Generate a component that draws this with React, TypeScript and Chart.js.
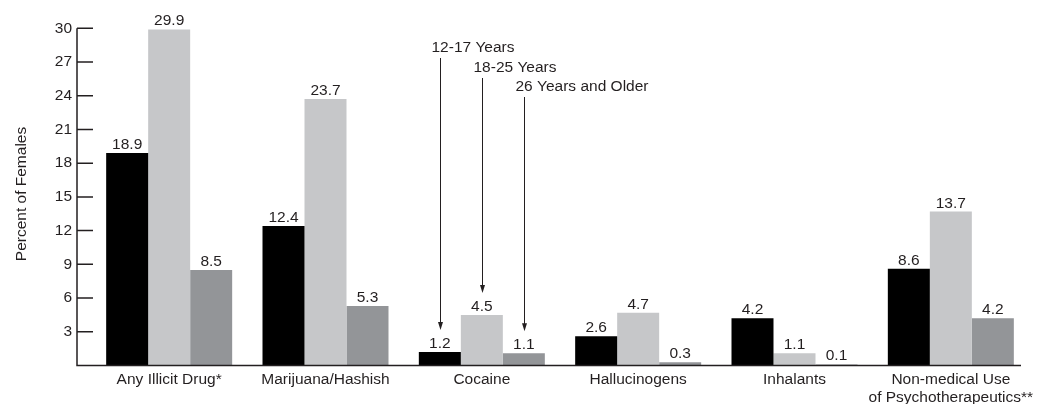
import React, { useEffect, useRef } from "react";
import { Chart, registerables } from "chart.js";

Chart.register(...registerables);

const categories: (string | string[])[] = [
  "Any Illicit Drug*",
  "Marijuana/Hashish",
  "Cocaine",
  "Hallucinogens",
  "Inhalants",
  ["Non-medical Use", "of Psychotherapeutics**"],
];
const seriesNames = ["12-17 Years", "18-25 Years", "26 Years and Older"];
const age12to17 = [18.9, 12.4, 1.2, 2.6, 4.2, 8.6];
const age18to25 = [29.9, 23.7, 4.5, 4.7, 1.1, 13.7];
const age26plus = [8.5, 5.3, 1.1, 0.3, 0.1, 4.2];
const seriesColors = ["#000000", "#c6c7c9", "#939598"];
const yTicks = [0, 3, 6, 9, 12, 15, 18, 21, 24, 27, 30];
const yTitle = "Percent of Females";
const annotatedCategory = 2;

const FONT = "'Liberation Sans', Arial, Helvetica, sans-serif";
const FS = 15.5;
const INK = "#231f20";

export default function App() {
  const ref = useRef<HTMLCanvasElement | null>(null);

  useEffect(() => {
    if (!ref.current) return;
    const axisX = 77;

    const overlay = {
      id: "overlay",
      afterDatasetsDraw(chart: any) {
        const ctx = chart.ctx;
        const area = chart.chartArea;
        const y = chart.scales.y;
        ctx.save();
        // axes
        ctx.strokeStyle = INK;
        ctx.lineWidth = 1.5;
        ctx.beginPath();
        ctx.moveTo(axisX, y.getPixelForValue(30));
        ctx.lineTo(axisX, area.bottom + 0.75);
        ctx.moveTo(axisX, area.bottom);
        ctx.lineTo(1021, area.bottom);
        ctx.stroke();
        ctx.beginPath();
        yTicks.forEach((t) => {
          if (t === 0) return;
          const py = y.getPixelForValue(t);
          ctx.moveTo(axisX, py);
          ctx.lineTo(axisX + 16, py);
        });
        ctx.stroke();

        // y title
        ctx.fillStyle = INK;
        ctx.font = `${FS}px ${FONT}`;
        ctx.save();
        ctx.translate(22, 194);
        ctx.rotate(-Math.PI / 2);
        ctx.textAlign = "center";
        ctx.textBaseline = "middle";
        ctx.fillText(yTitle, 0, 0);
        ctx.restore();

        // value labels
        ctx.textAlign = "center";
        ctx.textBaseline = "alphabetic";
        chart.data.datasets.forEach((ds: any, di: number) => {
          const meta = chart.getDatasetMeta(di);
          meta.data.forEach((el: any, i: number) => {
            ctx.fillText(ds.data[i].toFixed(1), el.x, el.y - 4);
          });
        });

        // annotations
        const textBase = [52, 72, 91];
        ctx.textAlign = "left";
        ctx.lineWidth = 1;
        chart.data.datasets.forEach((ds: any, di: number) => {
          const el = chart.getDatasetMeta(di).data[annotatedCategory];
          const ax = Math.round(el.x) + 0.5;
          const tb = textBase[di];
          ctx.fillStyle = INK;
          ctx.fillText(ds.label, ax - 9, tb);
          const tip = el.y - 22;
          ctx.beginPath();
          ctx.moveTo(ax, tb + 6);
          ctx.lineTo(ax, tip - 6);
          ctx.stroke();
          ctx.beginPath();
          ctx.moveTo(ax - 2.5, tip - 8);
          ctx.lineTo(ax + 2.5, tip - 8);
          ctx.lineTo(ax, tip);
          ctx.closePath();
          ctx.fill();
        });
        ctx.restore();
      },
    };

    const chart = new Chart(ref.current, {
      type: "bar",
      data: {
        labels: categories,
        datasets: [age12to17, age18to25, age26plus].map((d, i) => ({
          label: seriesNames[i],
          data: d,
          backgroundColor: seriesColors[i],
          borderWidth: 0,
          barPercentage: 1,
          categoryPercentage: 0.806,
        })),
      },
      options: {
        responsive: false,
        animation: false,
        devicePixelRatio: 1,
        layout: { padding: { top: 17.5, right: 12, left: 0, bottom: 0 } },
        plugins: {
          legend: { display: false },
          tooltip: { enabled: false },
        },
        scales: {
          x: {
            grid: { display: false, drawTicks: false },
            border: { display: false },
            ticks: {
              color: INK,
              font: { family: FONT, size: FS, lineHeight: 1.12 },
              padding: 6,
              maxRotation: 0,
              autoSkip: false,
            },
            afterFit(scale: any) {
              scale.height = 38.5;
            },
          },
          y: {
            min: 0,
            max: 30,
            grid: { display: false, drawTicks: false },
            border: { display: false },
            ticks: {
              stepSize: 3,
              color: INK,
              font: { family: FONT, size: FS },
              padding: 19,
              callback: (v: any) => (v === 0 ? "" : String(v)),
            },
            afterFit(scale: any) {
              scale.width = 91;
            },
          },
        },
      },
      plugins: [overlay],
    });
    return () => chart.destroy();
  }, []);

  return (
    <div style={{ position: "fixed", left: 0, top: 0, width: 1041, height: 404, background: "#fff" }}>
      <canvas ref={ref} width={1041} height={404} style={{ display: "block" }} />
    </div>
  );
}
